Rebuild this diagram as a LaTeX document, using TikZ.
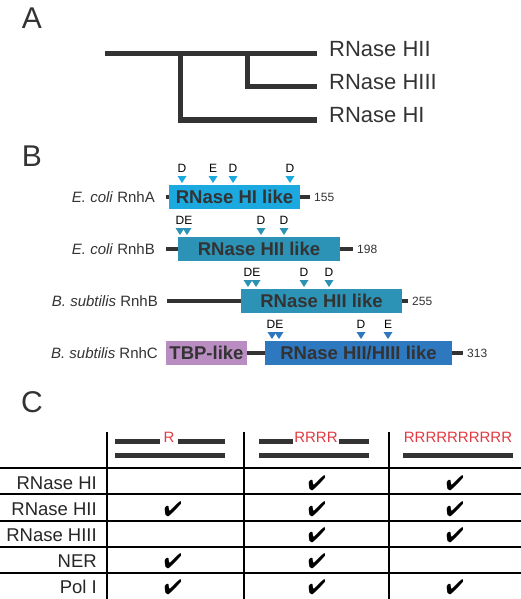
\documentclass[tikz,border=0pt]{standalone}
\usepackage{fontspec}
\setmainfont{Liberation Sans}
\usepackage{pifont}
\usetikzlibrary{positioning}
\definecolor{ink}{HTML}{333333}
\definecolor{hiA}{HTML}{1BA9E0}
\definecolor{hiB}{HTML}{2C93B6}
\definecolor{hiC}{HTML}{2E78C0}
\definecolor{tbp}{HTML}{B98DC2}
\definecolor{rna}{HTML}{E03A42}
\begin{document}
\begin{tikzpicture}[x=1pt, y=-1pt,
    panel/.style = {font=\fontsize{30}{30}\selectfont, text=ink},
    tree/.style = {draw=ink, line width=5pt},
    leaf/.style = {anchor=base west, inner sep=0pt, font=\fontsize{22}{22}\selectfont, text=ink},
    prot/.style = {anchor=east, inner sep=0pt, font=\fontsize{15}{15}\selectfont, text=ink},
    chain/.style = {draw=ink, line width=4pt},
    dom/.style = {inner sep=0pt, minimum height=23.5pt, text=ink, font=\bfseries\fontsize{18.5}{18.5}\selectfont},
    len/.style = {anchor=west, inner sep=0pt, font=\fontsize{12}{12}\selectfont, text=ink},
    res/.style = {inner sep=0pt, font=\fontsize{12}{12}\selectfont},
    strand/.style = {draw=ink, line width=5pt},
    rnabase/.style = {inner sep=3pt, text=rna, font=\fontsize{15}{15}\selectfont},
    grid/.style = {draw=black, line width=1.1pt},
    rowlab/.style = {anchor=east, inner sep=0pt, font=\fontsize{18.5}{18.5}\selectfont, text=black!85},
    tick/.style = {inner sep=0pt, font=\fontsize{21}{21}\selectfont}]
\useasboundingbox (0,0) rectangle (521,599);

\node[panel] (pa) at (32,18) {A};
\node[panel] (pb) at (32,156) {B};
\node[panel] (pc) at (32,402) {C};

\coordinate (root) at (105,54);
\coordinate (n1) at (180,54);
\coordinate (n2) at (247,54);
\coordinate (hii) at (317,54);
\coordinate (hiii) at (317,87);
\coordinate (hi) at (317,120);
\draw[tree] (root) -- (hii);
\draw[tree] (n1) |- (hi);
\draw[tree] (n2) |- (hiii);
\node[leaf] (lhii) at ([shift={(12,3)}]hii) {RNase HII};
\node[leaf] (lhiii) at ([shift={(12,3)}]hiii) {RNase HIII};
\node[leaf] (lhi) at ([shift={(12,3)}]hi) {RNase HI};

\node[prot] (pA) at (155,197) {\textit{E. coli} RnhA};
\draw[chain] ([xshift=11]pA.east) -- ++(144,0) coordinate (eA);
\node[dom, fill=hiA, minimum width=131pt] (dA) at (234.5,197) {RNase HI like};
\node[len, right=4pt of eA] (lA) {155};
\foreach \x in {182,213,233,290} \fill[hiA] (\x-4.5,176) -- ++(9,0) -- ++(-4.5,7) -- cycle;
\foreach \x/\t in {182/D,213/E,233/D,290/D} \node[res] at (\x,168.5) {\t};

\node[prot] (pB) at (155,249) {\textit{E. coli} RnhB};
\draw[chain] ([xshift=11]pB.east) -- ++(187,0) coordinate (eB);
\node[dom, fill=hiB, minimum width=162pt] (dB) at (259,249) {RNase HII like};
\node[len, right=4pt of eB] (lB) {198};
\foreach \x in {180,187,261,284} \fill[hiB] (\x-4.5,228) -- ++(9,0) -- ++(-4.5,7) -- cycle;
\foreach \x/\t in {184/DE,261/D,284/D} \node[res] at (\x,220.5) {\t};

\node[prot] (pC) at (158,301) {\textit{B. subtilis} RnhB};
\draw[chain] ([xshift=9]pC.east) -- ++(241,0) coordinate (eC);
\node[dom, fill=hiB, minimum width=161pt] (dC) at (321.5,301) {RNase HII like};
\node[len, right=4pt of eC] (lC) {255};
\foreach \x in {248,256,304,329} \fill[hiB] (\x-4.5,280) -- ++(9,0) -- ++(-4.5,7) -- cycle;
\foreach \x/\t in {252/DE,304/D,329/D} \node[res] at (\x,272.5) {\t};

\node[prot] (pD) at (158,353) {\textit{B. subtilis} RnhC};
\draw[chain] ([xshift=8]pD.east) -- ++(297,0) coordinate (eD);
\node[dom, fill=tbp, minimum width=81pt] (dT) at (206.5,353) {TBP-like};
\node[dom, fill=hiC, minimum width=187pt] (dD) at (358.5,353) {RNase HII/HIII like};
\node[len, right=4pt of eD] (lD) {313};
\foreach \x in {272,279,361,388} \fill[hiC] (\x-4.5,332) -- ++(9,0) -- ++(-4.5,7) -- cycle;
\foreach \x/\t in {275/DE,361/D,388/E} \node[res] at (\x,324.5) {\t};

\foreach \y in {468,494,521,547,573} \draw[grid] (0,\y) -- (521,\y);
\foreach \x in {107,244,389} \draw[grid] (\x,432) -- (\x,599);

\node[rnabase] (r1) at (169,437.5) {R};
\draw[strand] (115,441) -- ([yshift=-3.5]r1.west);
\draw[strand] ([yshift=-3.5]r1.east) -- (225,441);
\draw[strand] (115,455) -- (225,455);
\node[rnabase, inner sep=1pt] (r4) at (316,437.5) {RRRR};
\draw[strand] (259,441) -- ([yshift=-3.5]r4.west);
\draw[strand] ([yshift=-3.5]r4.east) -- (369,441);
\draw[strand] (259,455) -- (369,455);
\node[rnabase] (r10) at (458,437.5) {RRRRRRRRRR};
\draw[strand] (403,455) -- (513,455);

\node[rowlab] (hI) at (97,483.5) {RNase HI};
\node[rowlab] (hII) at (97,509) {RNase HII};
\node[rowlab] (hIII) at (97,535) {RNase HIII};
\node[rowlab] (ner) at (97,561) {NER};
\node[rowlab] (pol) at (97,587) {Pol I};

\foreach \x/\y in {317/483, 455/483, 173/509, 317/509, 455/509, 317/535, 455/535, 173/561, 317/561, 173/587, 317/587, 455/587}
    \node[tick] at (\x,\y) {\ding{52}};
\end{tikzpicture}
\end{document}
